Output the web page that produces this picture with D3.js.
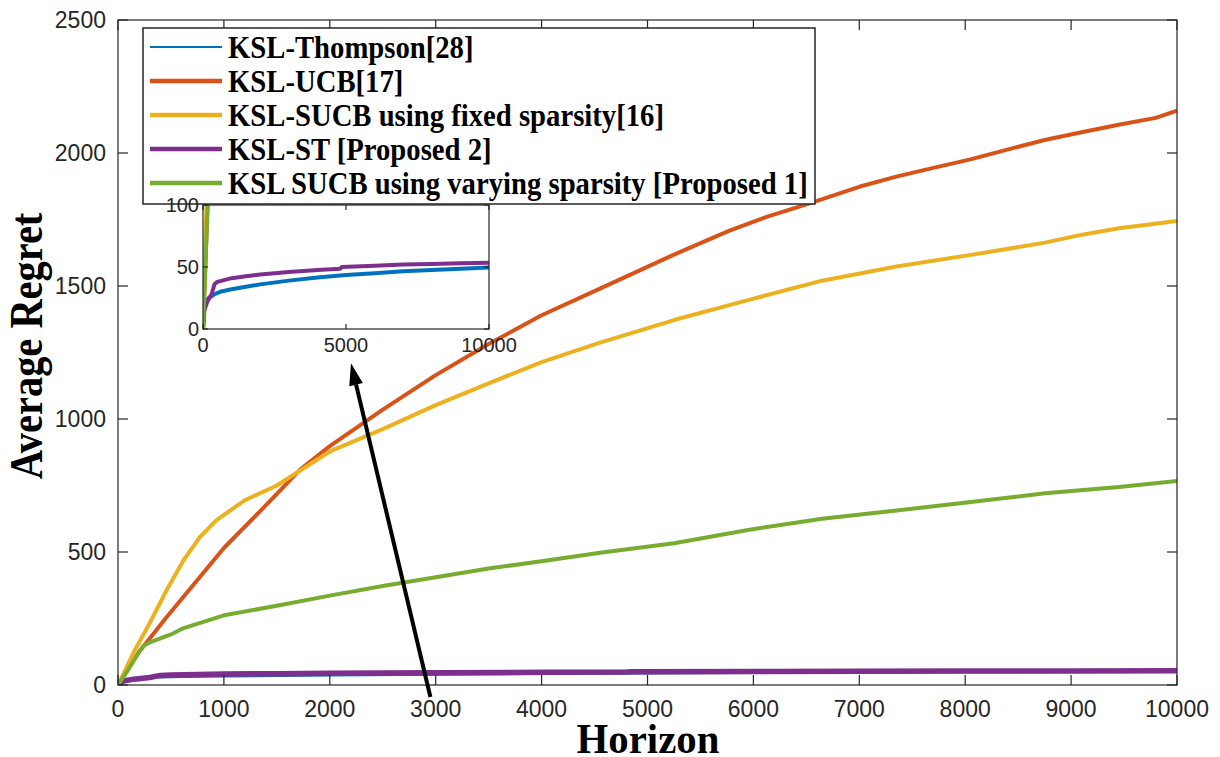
<!DOCTYPE html>
<html>
<head>
<meta charset="utf-8">
<script src="https://cdn.jsdelivr.net/npm/d3@7"></script>
<style>
  body { margin: 0; background: #fff; }
  svg { display: block; }
  .tick-label { font-family: "Liberation Sans", Arial, sans-serif; fill: #262626; }
  .serif-bold { font-family: "Liberation Serif", "Times New Roman", serif; font-weight: bold; fill: #000; }
</style>
</head>
<body>
<svg id="chart" width="1220" height="757"></svg>
<script>
// series data (horizon -> average regret)
const thompsonX = [0, 50, 200, 400, 600, 1000, 1500, 2000, 3000, 4000, 5000, 6000, 7000, 8000, 9000, 10000];
const thompsonY = [0, 20, 25, 28, 30, 32, 34, 36, 39, 41.5, 43.5, 45, 46.5, 47.5, 48.5, 49.5];

const ucbX = [0, 200, 460, 775, 1000, 1400, 1720, 2000, 2500, 3000, 3500, 4000, 4551, 5250, 5774, 6124, 6509, 6999, 7349, 7699, 8049, 8469, 8749, 9099, 9449, 9799, 10000];
const ucbY = [0, 125, 256, 407, 515, 677, 810, 898, 1035, 1165, 1282, 1390, 1490, 1618, 1708, 1760, 1808, 1873, 1911, 1944, 1976, 2020, 2049, 2078, 2106, 2132, 2159];

const sucbFixedX = [0, 145, 300, 460, 620, 775, 930, 1000, 1200, 1500, 2000, 2500, 3000, 3500, 4000, 4551, 5250, 5949, 6648, 7351, 8055, 8753, 9103, 9452, 10000];
const sucbFixedY = [0, 120, 233, 357, 470, 557, 620, 640, 695, 750, 878, 962, 1052, 1134, 1214, 1287, 1372, 1447, 1520, 1573, 1617, 1663, 1693, 1717, 1744];

const stX = [0, 50, 150, 300, 400, 500, 1000, 1500, 2000, 3000, 4000, 4800, 4850, 6000, 7000, 8000, 9000, 10000];
const stY = [0, 15, 22, 28, 36, 38, 41, 42.5, 44, 46, 47.5, 48.5, 50, 51, 52, 52.5, 53, 53.5];

const sucbVarX = [0, 100, 200, 250, 300, 500, 620, 1000, 1500, 2000, 2500, 3000, 3500, 4000, 4551, 5250, 5949, 6648, 7351, 8055, 8753, 9452, 10000];
const sucbVarY = [0, 60, 125, 150, 160, 190, 214, 262, 298, 336, 372, 405, 438, 465, 497, 533, 583, 625, 656, 688, 721, 744, 767];

const seriesNames = [
  "KSL-Thompson[28]",
  "KSL-UCB[17]",
  "KSL-SUCB using fixed sparsity[16]",
  "KSL-ST [Proposed 2]",
  "KSL SUCB using varying sparsity [Proposed 1]"
];
const seriesColors = ["#0072BD", "#D95319", "#EDB120", "#7E2F8E", "#77AC30"];
// line widths in the main axes / inset
const mainWidths = [2, 4, 4, 5.5, 4];
const insetWidths = [4, 4, 4, 4, 4];

const mainXTicks = [0, 1000, 2000, 3000, 4000, 5000, 6000, 7000, 8000, 9000, 10000];
const mainYTicks = [0, 500, 1000, 1500, 2000, 2500];
const insetXTicks = [0, 5000, 10000];
const insetYTicks = [0, 50, 100];

// arrow annotation (data units of the main axes): tail -> tip
const arrowFrom = [2950, -45];
const arrowTo = [2200, 1210];

const series = [
  {x: thompsonX, y: thompsonY},
  {x: ucbX, y: ucbY},
  {x: sucbFixedX, y: sucbFixedY},
  {x: stX, y: stY},
  {x: sucbVarX, y: sucbVarY}
].map((s, i) => ({
  name: seriesNames[i],
  color: seriesColors[i],
  points: s.x.map((v, j) => [v, s.y[j]])
}));

const svg = d3.select("#chart");
const defs = svg.append("defs");

// ---- main axes ----
const M = {left: 118, right: 1177, top: 20, bottom: 685};
const x = d3.scaleLinear().domain([0, 10000]).range([M.left, M.right]);
const y = d3.scaleLinear().domain([0, 2500]).range([M.bottom, M.top]);

defs.append("clipPath").attr("id", "main-clip")
  .append("rect")
  .attr("x", M.left).attr("y", M.top)
  .attr("width", M.right - M.left).attr("height", M.bottom - M.top);

// box, inward ticks on all four sides, tick labels bottom/left
function drawAxesBox(g, xs, ys, xTicks, yTicks, tickLen, fontSize, xLabelDy, yLabelDx) {
  const [x0, x1] = xs.range();
  const [y0, y1] = ys.range();
  g.append("rect")
    .attr("x", x0).attr("y", y1)
    .attr("width", x1 - x0).attr("height", y0 - y1)
    .attr("fill", "none").attr("stroke", "#262626").attr("stroke-width", 1.2);
  xTicks.forEach(t => {
    g.append("line").attr("x1", xs(t)).attr("x2", xs(t)).attr("y1", y0).attr("y2", y0 - tickLen)
      .attr("stroke", "#262626").attr("stroke-width", 1.2);
    g.append("line").attr("x1", xs(t)).attr("x2", xs(t)).attr("y1", y1).attr("y2", y1 + tickLen)
      .attr("stroke", "#262626").attr("stroke-width", 1.2);
    g.append("text").attr("class", "tick-label")
      .attr("x", xs(t)).attr("y", y0 + xLabelDy)
      .attr("text-anchor", "middle")
      .style("font-size", fontSize + "px")
      .text(t);
  });
  yTicks.forEach(t => {
    g.append("line").attr("x1", x0).attr("x2", x0 + tickLen).attr("y1", ys(t)).attr("y2", ys(t))
      .attr("stroke", "#262626").attr("stroke-width", 1.2);
    g.append("line").attr("x1", x1).attr("x2", x1 - tickLen).attr("y1", ys(t)).attr("y2", ys(t))
      .attr("stroke", "#262626").attr("stroke-width", 1.2);
    g.append("text").attr("class", "tick-label")
      .attr("x", x0 - yLabelDx).attr("y", ys(t))
      .attr("dy", "0.36em")
      .attr("text-anchor", "end")
      .style("font-size", fontSize + "px")
      .text(t);
  });
}

const mainG = svg.append("g");
mainG.append("rect")
  .attr("x", M.left).attr("y", M.top)
  .attr("width", M.right - M.left).attr("height", M.bottom - M.top)
  .attr("fill", "#fff");

const line = d3.line().x(d => x(d[0])).y(d => y(d[1]));
const linesG = mainG.append("g").attr("clip-path", "url(#main-clip)");
series.forEach((s, i) => {
  linesG.append("path")
    .datum(s.points)
    .attr("d", line)
    .attr("fill", "none")
    .attr("stroke", s.color)
    .attr("stroke-width", mainWidths[i])
    .attr("stroke-linejoin", "round");
});

drawAxesBox(mainG, x, y, mainXTicks, mainYTicks, 10, 23, 32, 12);

// axis titles
const xTitleCx = (M.left + M.right) / 2 + 0.5;
svg.append("text").attr("class", "serif-bold")
  .attr("transform", `translate(${xTitleCx}, 753) scale(0.95,1)`)
  .attr("text-anchor", "middle")
  .style("font-size", "43px")
  .text("Horizon");

svg.append("text").attr("class", "serif-bold")
  .attr("transform", `translate(42, 346) rotate(-90) scale(0.86,1)`)
  .attr("text-anchor", "middle")
  .style("font-size", "47px")
  .text("Average Regret");

// ---- legend ----
const legendG = svg.append("g");
const legendBox = {x: 143, y: 28, w: 672, h: 176};
legendG.append("rect")
  .attr("x", legendBox.x).attr("y", legendBox.y)
  .attr("width", legendBox.w).attr("height", legendBox.h)
  .attr("fill", "#fff").attr("stroke", "#262626").attr("stroke-width", 1.5);

const rowY = d3.scalePoint().domain(seriesNames).range([47, 183]);
const legendTexts = [];
series.forEach((s, i) => {
  const cy = rowY(s.name);
  legendG.append("line")
    .attr("x1", 150).attr("x2", 222).attr("y1", cy).attr("y2", cy)
    .attr("stroke", s.color).attr("stroke-width", i === 0 ? 2 : 4.5);
  legendTexts.push(legendG.append("text").attr("class", "serif-bold")
    .attr("x", 0).attr("y", 0)
    .style("font-size", "31px")
    .datum(cy + 11)
    .text(s.name));
});
// squeeze the text horizontally so the widest entry fits the box
const widest = d3.max(legendTexts, t => t.node().getComputedTextLength());
const sx = 580 / widest;
legendTexts.forEach(t => t.attr("transform", d => `translate(228, ${d}) scale(${sx},1)`));

// ---- inset ----
const I = {left: 203, right: 489, top: 205, bottom: 329};
const xi = d3.scaleLinear().domain([0, 10000]).range([I.left, I.right]);
const yi = d3.scaleLinear().domain([0, 100]).range([I.bottom, I.top]);
defs.append("clipPath").attr("id", "inset-clip")
  .append("rect")
  .attr("x", I.left).attr("y", I.top)
  .attr("width", I.right - I.left).attr("height", I.bottom - I.top);

const insetG = svg.append("g");
insetG.append("rect")
  .attr("x", I.left).attr("y", I.top)
  .attr("width", I.right - I.left).attr("height", I.bottom - I.top)
  .attr("fill", "#fff");
const lineI = d3.line().x(d => xi(d[0])).y(d => yi(d[1]));
const insetLines = insetG.append("g").attr("clip-path", "url(#inset-clip)");
series.forEach((s, i) => {
  insetLines.append("path")
    .datum(s.points)
    .attr("d", lineI)
    .attr("fill", "none")
    .attr("stroke", s.color)
    .attr("stroke-width", insetWidths[i])
    .attr("stroke-linejoin", "round");
});
drawAxesBox(insetG, xi, yi, insetXTicks, insetYTicks, 5, 20, 23, 4);

// ---- arrow ----
const ax0 = x(arrowFrom[0]), ay0 = y(arrowFrom[1]);
const ax1 = x(arrowTo[0]), ay1 = y(arrowTo[1]);
const ang = Math.atan2(ay1 - ay0, ax1 - ax0);
const headLen = 22, headW = 7;
const bx = ax1 - headLen * Math.cos(ang), by = ay1 - headLen * Math.sin(ang);
svg.append("line")
  .attr("x1", ax0).attr("y1", ay0).attr("x2", bx).attr("y2", by)
  .attr("stroke", "#000").attr("stroke-width", 4);
svg.append("path")
  .attr("d", `M${ax1},${ay1} L${bx + headW * Math.sin(ang)},${by - headW * Math.cos(ang)} L${bx - headW * Math.sin(ang)},${by + headW * Math.cos(ang)} Z`)
  .attr("fill", "#000");
</script>
</body>
</html>
